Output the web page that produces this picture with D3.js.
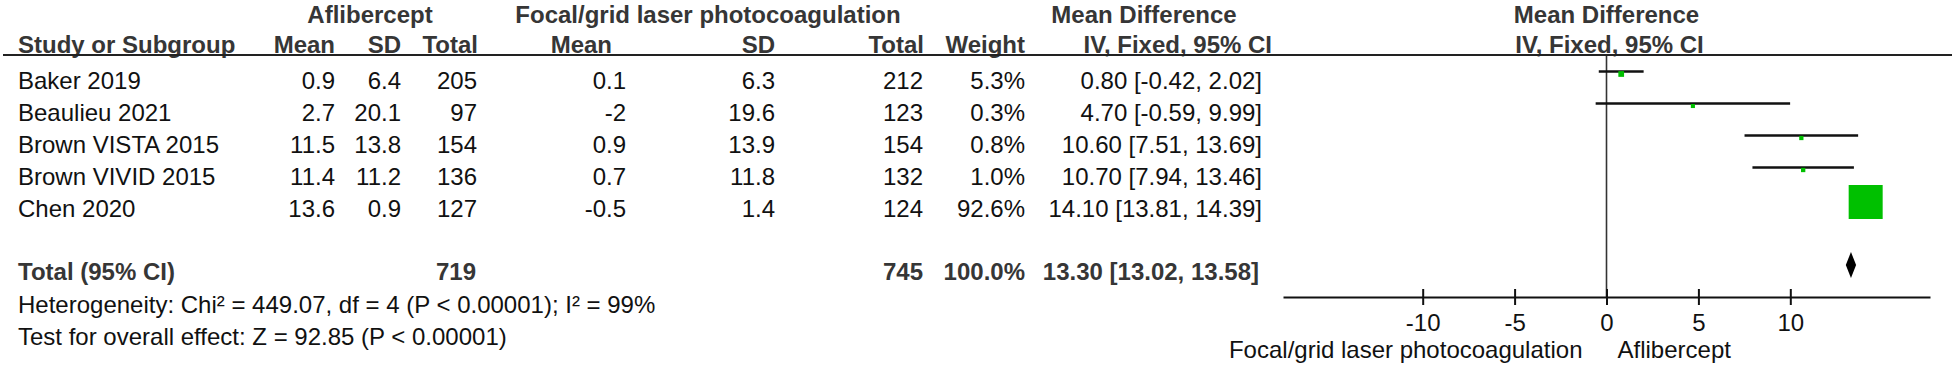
<!DOCTYPE html>
<html>
<head>
<meta charset="utf-8">
<script src="https://cdn.jsdelivr.net/npm/d3@7"></script>
<style>
  html, body { margin: 0; padding: 0; background: #fff; }
  svg { display: block; font-family: "Liberation Sans", Arial, sans-serif; }
</style>
</head>
<body>
<div id="forest"></div>
<script>
// ── data ─────────────────────────────────────────────────────────────
const studies    = ['Baker 2019', 'Beaulieu 2021', 'Brown VISTA 2015', 'Brown VIVID 2015', 'Chen 2020'];
const aflMean    = [0.9, 2.7, 11.5, 11.4, 13.6];
const aflSD      = [6.4, 20.1, 13.8, 11.2, 0.9];
const aflN       = [205, 97, 154, 136, 127];
const laserMean  = [0.1, -2, 0.9, 0.7, -0.5];
const laserSD    = [6.3, 19.6, 13.9, 11.8, 1.4];
const laserN     = [212, 123, 154, 132, 124];
const weights    = [5.3, 0.3, 0.8, 1.0, 92.6];
const md         = [0.80, 4.70, 10.60, 10.70, 14.10];
const ciLow      = [-0.42, -0.59, 7.51, 7.94, 13.81];
const ciHigh     = [2.02, 9.99, 13.69, 13.46, 14.39];

const totalAflN   = 719;
const totalLaserN = 745;
const totalWeight = 100.0;
const totalMD     = [13.30, 13.02, 13.58];   // estimate, low, high

const heterogeneityText = 'Heterogeneity: Chi² = 449.07, df = 4 (P < 0.00001); I² = 99%';
const overallText       = 'Test for overall effect: Z = 92.85 (P < 0.00001)';

const xTicks  = [-10, -5, 0, 5, 10];
const xDomain = [-17.6, 17.6];
const favoursLeft  = 'Focal/grid laser photocoagulation';
const favoursRight = 'Aflibercept';

// ── setup ────────────────────────────────────────────────────────────
const width = 1955, height = 368;
const FS = 24;

const svg = d3.select('#forest').append('svg')
  .attr('width', width)
  .attr('height', height)
  .attr('viewBox', [0, 0, width, height]);

const x = d3.scaleLinear().domain(xDomain).range([1283, 1930]);
const boxSize = d3.scaleLinear().domain([0, 92.6]).range([4, 34]);

const rowText = i => 81 + 32 * i;        // text centre of study rows
const rowLine = i => rowText(i) - 9.5;   // CI line of study rows
const totalY = 272, diamondY = 265, axisY = 297;

// plain hyphen for negatives, like the original
const locale = d3.formatLocale({ decimal: '.', thousands: ',', grouping: [3], currency: ['', ''], minus: '-' });
const f1 = locale.format('.1f'), f2 = locale.format('.2f'), fd = locale.format('d');

// headers
const head = svg.append('g')
  .attr('font-size', FS).attr('font-weight', 'bold').attr('fill', '#363636');

const headers = [
  { t: 'Aflibercept', x: 370, y: 15, a: 'middle' },
  { t: 'Focal/grid laser photocoagulation', x: 708, y: 15, a: 'middle' },
  { t: 'Mean Difference', x: 1144, y: 15, a: 'middle' },
  { t: 'Mean Difference', x: x(0), y: 15, a: 'middle' },
  { t: 'Study or Subgroup', x: 18, y: 45, a: 'start' },
  { t: 'Mean', x: 335, y: 45, a: 'end' },
  { t: 'SD', x: 401, y: 45, a: 'end' },
  { t: 'Total', x: 478, y: 45, a: 'end' },
  { t: 'Mean', x: 612, y: 45, a: 'end' },
  { t: 'SD', x: 775, y: 45, a: 'end' },
  { t: 'Total', x: 924, y: 45, a: 'end' },
  { t: 'Weight', x: 1025, y: 45, a: 'end' },
  { t: 'IV, Fixed, 95% CI', x: 1272, y: 45, a: 'end' },
  { t: 'IV, Fixed, 95% CI', x: x(0) + 3, y: 45, a: 'middle' }
];

head.selectAll('text')
  .data(headers)
  .join('text')
  .attr('x', d => d.x)
  .attr('y', d => d.y)
  .attr('dy', '0.35em')
  .attr('text-anchor', d => d.a)
  .text(d => d.t);

svg.append('line')
  .attr('x1', 3).attr('x2', 1952)
  .attr('y1', 55).attr('y2', 55)
  .attr('stroke', '#222').attr('stroke-width', 2.2);

// study rows
const columns = [
  { v: i => studies[i], x: 18, a: 'start' },
  { v: i => String(aflMean[i]), x: 335, a: 'end' },
  { v: i => String(aflSD[i]), x: 401, a: 'end' },
  { v: i => String(aflN[i]), x: 477, a: 'end' },
  { v: i => String(laserMean[i]), x: 626, a: 'end' },
  { v: i => String(laserSD[i]), x: 775, a: 'end' },
  { v: i => String(laserN[i]), x: 923, a: 'end' },
  { v: i => f1(weights[i]) + '%', x: 1025, a: 'end' },
  { v: i => `${f2(md[i])} [${f2(ciLow[i])}, ${f2(ciHigh[i])}]`, x: 1262, a: 'end' }
];

const body = svg.append('g').attr('font-size', FS).attr('fill', '#111');

studies.forEach((s, i) => {
  body.append('g')
    .selectAll('text')
    .data(columns)
    .join('text')
    .attr('x', c => c.x)
    .attr('y', rowText(i))
    .attr('dy', '0.35em')
    .attr('text-anchor', c => c.a)
    .text(c => c.v(i));
});

// total row
const totals = [
  { t: 'Total (95% CI)', x: 18, a: 'start' },
  { t: String(totalAflN), x: 476, a: 'end' },
  { t: String(totalLaserN), x: 923, a: 'end' },
  { t: f1(totalWeight) + '%', x: 1025, a: 'end' },
  { t: `${f2(totalMD[0])} [${f2(totalMD[1])}, ${f2(totalMD[2])}]`, x: 1259, a: 'end' }
];

svg.append('g')
  .attr('font-size', FS).attr('font-weight', 'bold').attr('fill', '#363636')
  .selectAll('text')
  .data(totals)
  .join('text')
  .attr('x', d => d.x)
  .attr('y', totalY)
  .attr('dy', '0.35em')
  .attr('text-anchor', d => d.a)
  .text(d => d.t);

// footnotes
svg.append('g')
  .attr('font-size', FS).attr('fill', '#111')
  .selectAll('text')
  .data([heterogeneityText, overallText])
  .join('text')
  .attr('x', 18)
  .attr('y', (d, i) => 305 + 32 * i)
  .attr('dy', '0.35em')
  .text(d => d);

// ── plot ─────────────────────────────────────────────────────────────
const plot = svg.append('g');

// line of no effect
plot.append('line')
  .attr('x1', x(0)).attr('x2', x(0))
  .attr('y1', 56).attr('y2', axisY)
  .attr('stroke', '#333').attr('stroke-width', 1.6);

// confidence intervals
plot.append('g')
  .selectAll('line')
  .data(studies)
  .join('line')
  .attr('x1', (d, i) => x(ciLow[i]))
  .attr('x2', (d, i) => x(ciHigh[i]))
  .attr('y1', (d, i) => rowLine(i))
  .attr('y2', (d, i) => rowLine(i))
  .attr('stroke', '#111')
  .attr('stroke-width', 2.4);

// weight boxes
plot.append('g')
  .selectAll('rect')
  .data(studies)
  .join('rect')
  .attr('x', (d, i) => x(md[i]) - boxSize(weights[i]) / 2)
  .attr('y', (d, i) => rowLine(i) + 2.5 - boxSize(weights[i]) / 2)
  .attr('width', (d, i) => boxSize(weights[i]))
  .attr('height', (d, i) => boxSize(weights[i]))
  .attr('fill', '#00c000');

// pooled diamond
plot.append('path')
  .attr('d', d3.line()([
    [x(totalMD[1]), diamondY],
    [x(totalMD[0]), diamondY - 13],
    [x(totalMD[2]), diamondY],
    [x(totalMD[0]), diamondY + 13]
  ]) + 'Z')
  .attr('fill', '#000');

// axis
const axis = plot.append('g')
  .attr('transform', `translate(0,${axisY})`)
  .call(d3.axisBottom(x)
    .tickValues(xTicks)
    .tickFormat(fd)
    .tickSizeInner(8)
    .tickSizeOuter(0)
    .tickPadding(8.6));

axis.select('.domain').attr('stroke', '#111').attr('stroke-width', 2.2);
axis.selectAll('.tick line').attr('y1', -8).attr('y2', 8).attr('stroke', '#111').attr('stroke-width', 2);
axis.selectAll('.tick text')
  .attr('font-size', FS)
  .attr('font-family', '"Liberation Sans", Arial, sans-serif')
  .attr('fill', '#111');

// favours labels
plot.append('g')
  .attr('font-size', FS).attr('fill', '#111')
  .selectAll('text')
  .data([{ t: favoursLeft, x: x(0) - 24, a: 'end' }, { t: favoursRight, x: x(0) + 11, a: 'start' }])
  .join('text')
  .attr('x', d => d.x)
  .attr('y', 350)
  .attr('dy', '0.35em')
  .attr('text-anchor', d => d.a)
  .text(d => d.t);
</script>
</body>
</html>
